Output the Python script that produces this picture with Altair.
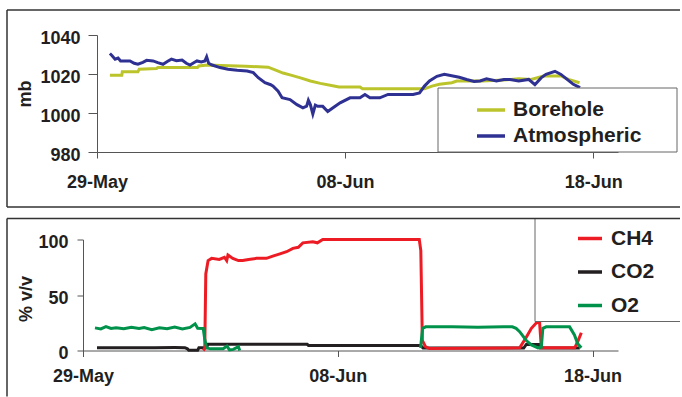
import altair as alt
import pandas as pd

# Day 0 of the monitoring record
START = "2005-05-29"

# ---------------- barometric pressure (mb) ----------------
atm_days = [0.52, 0.60, 0.73, 0.85, 0.95, 1.33, 1.50, 1.65, 1.85, 2.00, 2.26, 2.45, 2.66,
            2.85, 3.00, 3.20, 3.43, 3.60, 3.75, 3.90, 4.03, 4.20, 4.35, 4.42, 4.50, 4.64,
            4.96, 5.28, 5.65, 6.05, 6.30, 6.50, 6.77, 7.00, 7.10, 7.30, 7.46, 7.78, 8.06,
            8.30, 8.45, 8.52, 8.60, 8.70, 8.80, 8.90, 9.10, 9.30, 9.50, 9.80, 10.20, 10.60,
            10.80, 11.00, 11.40, 11.73, 12.20, 12.74, 13.00, 13.20, 13.40, 13.70, 14.00,
            14.60, 14.90, 15.20, 15.44, 15.70, 16.10, 16.40, 16.65, 17.00, 17.40, 17.65,
            17.90, 18.10, 18.46, 18.70, 18.95, 19.20, 19.47]
atm_mb = [1030.5, 1029.5, 1027.6, 1028.2, 1026.7, 1026.7, 1025.5, 1025.0, 1026.0, 1027.0,
          1026.7, 1025.8, 1025.0, 1026.5, 1027.6, 1026.8, 1027.2, 1025.5, 1024.6, 1025.8,
          1026.7, 1026.2, 1026.7, 1028.8, 1025.5, 1024.6, 1023.3, 1022.4, 1021.9, 1021.5,
          1020.7, 1018.1, 1015.5, 1014.5, 1013.8, 1011.2, 1007.8, 1006.9, 1004.3, 1002.6,
          1003.5, 1006.5, 1004.3, 999.5, 1004.0, 1003.4, 1003.4, 1000.8, 1002.6, 1005.2,
          1007.8, 1007.8, 1009.5, 1007.8, 1007.8, 1009.5, 1009.5, 1009.5, 1010.3, 1013.8,
          1016.4, 1018.8, 1019.8, 1018.3, 1017.2, 1016.2, 1016.4, 1017.5, 1016.4, 1017.2,
          1017.2, 1016.4, 1017.2, 1014.5, 1018.0, 1019.8, 1021.4, 1019.8, 1017.2, 1014.7,
          1013.0]

bh_days = [0.52, 1.00, 1.02, 1.65, 1.70, 2.40, 2.45, 4.05, 4.10, 4.45, 5.00, 6.00, 6.90,
           7.20, 7.50, 7.85, 8.20, 8.60, 9.00, 9.50, 9.75, 10.60, 10.70, 13.20, 13.50,
           13.80, 14.30, 14.50, 15.50, 16.40, 17.00, 17.50, 18.00, 18.70, 19.00, 19.45]
bh_mb = [1019.3, 1019.3, 1021.2, 1021.2, 1022.4, 1022.8, 1023.3, 1023.3, 1024.1, 1024.6,
         1024.3, 1024.0, 1023.5, 1022.0, 1020.5, 1019.3, 1018.0, 1016.4, 1015.2, 1014.0,
         1013.3, 1013.3, 1012.4, 1012.4, 1013.8, 1014.7, 1015.5, 1016.4, 1016.4, 1016.9,
         1017.6, 1017.2, 1019.0, 1019.0, 1017.2, 1015.5]

# ---------------- gas concentrations (% v/v) ----------------
ch4_days = [4.72, 4.78, 4.82, 4.91, 5.05, 5.35, 5.55, 5.64, 5.69, 5.88, 6.10, 6.27, 6.50,
            6.81, 7.20, 7.45, 7.73, 7.99, 8.24, 8.45, 8.63, 9.02, 9.20, 9.41, 9.80, 13.20,
            13.26, 13.32, 13.45, 13.60, 17.14, 17.40, 17.60, 17.80, 17.92, 17.99, 19.30,
            19.42, 19.56]
ch4_pct = [0.0, 1.8, 69.0, 81.0, 83.0, 82.0, 84.0, 81.0, 86.0, 83.0, 81.0, 81.0, 82.0,
           83.0, 83.0, 85.0, 87.0, 89.0, 92.0, 93.0, 97.0, 98.0, 97.0, 100.0, 100.0, 100.0,
           90.0, 9.0, 3.3, 1.8, 2.4, 12.0, 20.0, 25.0, 26.0, 2.4, 2.4, 8.0, 16.0]

co2_days = [0.55, 1.50, 2.80, 3.60, 4.00, 4.10, 4.15, 4.50, 4.55, 4.85, 4.90, 6.00, 8.80,
            8.85, 13.25, 13.35, 17.30, 17.40, 17.90, 17.95, 19.10, 19.50]
co2_pct = [2.5, 2.5, 2.4, 2.6, 2.5, 1.5, 0.2, 0.2, 2.5, 2.5, 5.7, 5.6, 5.6, 4.6, 4.6, 2.2,
           2.2, 5.5, 5.5, 2.2, 2.2, 2.2]

o2_days_a = [0.47, 0.70, 0.90, 1.10, 1.30, 1.60, 1.90, 2.20, 2.40, 2.70, 3.00, 3.30, 3.60,
             3.90, 4.20, 4.40, 4.50, 4.72, 4.78, 4.85, 5.00, 5.50, 5.65, 5.75, 5.90, 6.10,
             6.15]
o2_pct_a = [20.4, 19.5, 21.5, 19.8, 20.5, 19.6, 21.0, 19.8, 20.6, 18.8, 20.5, 19.7, 21.2,
            19.5, 20.8, 24.0, 20.0, 19.8, 10.0, 2.4, 1.5, 1.5, 4.0, 0.5, 1.0, 3.5, 0.0]
o2_days_b = [13.25, 13.33, 13.45, 14.50, 15.50, 16.50, 16.85, 17.00, 17.14, 17.40, 17.60,
             17.86, 17.99, 18.05, 18.18, 19.10, 19.29, 19.42, 19.56]
o2_pct_b = [2.4, 20.0, 21.3, 21.3, 21.0, 21.3, 21.3, 20.0, 17.0, 9.0, 5.0, 2.4, 3.0, 20.0,
            21.3, 21.3, 14.0, 6.0, 2.4]

pressure_series = ["Borehole", "Atmospheric"]
pressure_colors = ["#BCC42C", "#2E3192"]
gas_series = ["CH4", "CO2", "O2"]
gas_colors = ["#ED1C24", "#231F20", "#00924A"]

FONT = "Liberation Sans"
INK = "#231F20"
FRAME = "#333333"


def series_frame(days, values, name, segment=0):
    t = pd.Timestamp(START) + pd.to_timedelta(days, unit="D")
    return pd.DataFrame({"time": t, "value": values, "series": name, "segment": segment})


pressure_df = pd.concat([
    series_frame(bh_days, bh_mb, "Borehole"),
    series_frame(atm_days, atm_mb, "Atmospheric"),
], ignore_index=True)

gas_df = pd.concat([
    series_frame(co2_days, co2_pct, "CO2"),
    series_frame(ch4_days, ch4_pct, "CH4"),
    series_frame(o2_days_a, o2_pct_a, "O2", 0),
    series_frame(o2_days_b, o2_pct_b, "O2", 1),
], ignore_index=True)

d_start = alt.DateTime(year=2005, month=5, date=29)
d_end = alt.DateTime(year=2005, month=6, date=19)
date_ticks = [alt.DateTime(year=2005, month=5, date=29),
              alt.DateTime(year=2005, month=6, date=8),
              alt.DateTime(year=2005, month=6, date=18)]

one_row = pd.DataFrame({"k": [0]})

# Both panels share one plot origin; the pressure panel's time axis starts a
# little further right, so its scale range is inset and its y axis follows it.
PANEL_W = 535
TOP_INSET = 14


def x_enc(label_pad, inset):
    return alt.X("time:T", scale=alt.Scale(domain=[d_start, d_end], range=[inset, PANEL_W]),
                 axis=alt.Axis(values=date_ticks, format="%d-%b", title=None,
                               labelFlush=False, tickSize=6, labelPadding=label_pad))


def frame_rules(left, right, top, bottom, draw_bottom):
    src = alt.Chart(one_row)
    rules = [
        src.mark_rule(color=FRAME, strokeWidth=1.5).encode(
            x=alt.value(left), x2=alt.value(right), y=alt.value(top)),
        src.mark_rule(color=FRAME, strokeWidth=1.5).encode(
            x=alt.value(left), y=alt.value(top), y2=alt.value(bottom)),
    ]
    if draw_bottom:
        rules.append(src.mark_rule(color=FRAME, strokeWidth=1.5).encode(
            x=alt.value(left), x2=alt.value(right), y=alt.value(bottom)))
    return rules


# ---------------- pressure panel ----------------
TOP_H = 117
p_color = alt.Color("series:N",
                    scale=alt.Scale(domain=pressure_series, range=pressure_colors),
                    legend=alt.Legend(orient="none", legendX=392, legendY=59, title=None,
                                      symbolType="stroke", symbolStrokeWidth=3.5,
                                      symbolSize=784, labelFontSize=21, labelFont=FONT,
                                      labelFontWeight="bold", labelColor=INK,
                                      rowPadding=0, labelOffset=6, padding=0))
p_y = alt.Y("value:Q", scale=alt.Scale(domain=[980, 1040]),
            axis=alt.Axis(values=[980, 1000, 1020, 1040], format="d", title="mb",
                          offset=-TOP_INSET, tickSize=9, labelPadding=8, labelOffset=3,
                          titleX=-72, titleY=58.5, titleBaseline="middle", titleAngle=270))

p_base = alt.Chart(pressure_df)
p_lines = [
    p_base.transform_filter(alt.datum.series == name).mark_line(strokeWidth=3).encode(
        x=x_enc(15, TOP_INSET), y=p_y, color=p_color, detail="segment:N")
    for name in pressure_series
]
p_box = alt.Chart(one_row).mark_rect(fill="white", stroke="#666666", strokeWidth=1).encode(
    x=alt.value(355), x2=alt.value(594), y=alt.value(53), y2=alt.value(117))

top = alt.layer(*p_lines, p_box, *frame_rules(-76, 597, -25, 172, True)).properties(
    width=PANEL_W, height=TOP_H)

# ---------------- gas panel ----------------
BOT_H = 111
g_color = alt.Color("series:N",
                    scale=alt.Scale(domain=gas_series, range=gas_colors),
                    legend=alt.Legend(orient="none", legendX=493, legendY=-15, title=None,
                                      symbolType="stroke", symbolStrokeWidth=3.5,
                                      symbolSize=576, labelFontSize=21, labelFont=FONT,
                                      labelFontWeight="bold", labelColor=INK,
                                      rowPadding=9.5, labelOffset=7, padding=0))
g_y = alt.Y("value:Q", scale=alt.Scale(domain=[0, 100]),
            axis=alt.Axis(values=[0, 50, 100], title="% v/v", tickSize=6, labelPadding=9,
                          labelOffset=3, titleX=-57, titleY=59, titleBaseline="middle",
                          titleAngle=270))

g_base = alt.Chart(gas_df)
g_lines = [
    g_base.transform_filter(alt.datum.series == name).mark_line(strokeWidth=3).encode(
        x=x_enc(11, 0), y=g_y, color=g_color, detail="segment:N")
    for name in ["CO2", "CH4", "O2"]
]
g_box = [
    alt.Chart(one_row).mark_rect(fill="white").encode(
        x=alt.value(452), x2=alt.value(597), y=alt.value(-21), y2=alt.value(82)),
    alt.Chart(one_row).mark_rule(color="#666666", strokeWidth=1).encode(
        x=alt.value(452), y=alt.value(-21), y2=alt.value(82)),
    alt.Chart(one_row).mark_rule(color="#666666", strokeWidth=1).encode(
        x=alt.value(452), x2=alt.value(597), y=alt.value(82)),
]

bottom = alt.layer(*g_lines, *g_box, *frame_rules(-76, 597, -21, 157, False)).properties(
    width=PANEL_W, height=BOT_H)

chart = alt.vconcat(top, bottom, spacing=9.5).resolve_scale(color="independent").properties(
    padding={"left": 6, "top": 9, "right": 0, "bottom": 0}
).configure_view(strokeWidth=0).configure_axis(
    labelFont=FONT, labelFontSize=18, labelFontWeight="bold", labelColor=INK,
    titleFont=FONT, titleFontSize=18, titleFontWeight="bold", titleColor=INK,
    domainColor="#555555", tickColor="#555555", domainWidth=1, tickWidth=1, grid=False
)

chart.save("out.html", embed_options={"renderer": "svg", "actions": False})
